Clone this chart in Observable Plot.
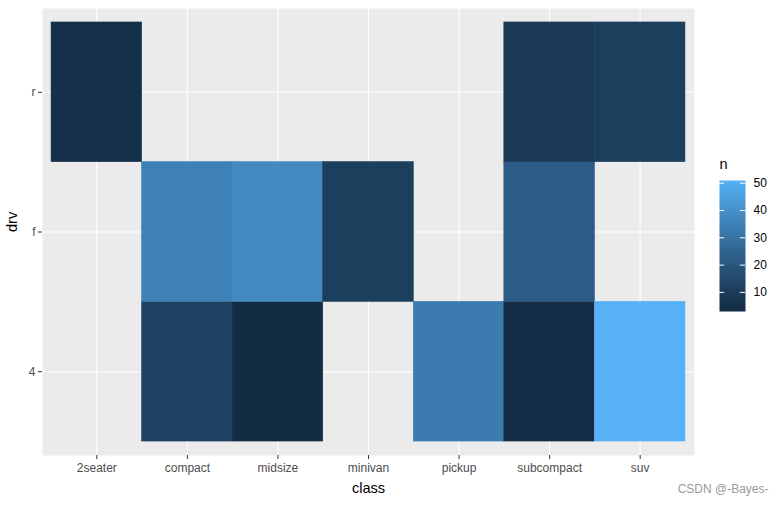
<!DOCTYPE html>
<html>
<head>
<meta charset="utf-8">
<script src="https://cdn.jsdelivr.net/npm/d3@7"></script>
<script src="https://cdn.jsdelivr.net/npm/@observablehq/plot@0.6"></script>
<style>
  body { margin: 0; background: white; }
  #wrap { position: relative; width: 784px; height: 505px; font-family: "Liberation Sans", Arial, sans-serif; }
  #legend { position: absolute; left: 700px; top: 150px; }
  svg { font-family: "Liberation Sans", Arial, sans-serif; }
</style>
</head>
<body>
<div id="wrap"><div id="main"></div><div id="legend"></div></div>
<script>
const classes = ["2seater","compact","midsize","minivan","pickup","subcompact","suv"];
const drvLevels = ["r","f","4"];
const cellClass = ["2seater","compact","compact","midsize","midsize","minivan","pickup","subcompact","subcompact","subcompact","suv","suv"];
const cellDrv   = ["r","4","f","4","f","f","4","4","f","r","4","r"];
const cellN     = [5,12,35,3,38,11,33,4,22,9,51,11];
const legendTicks = [10,20,30,40,50];

const data = cellN.map((n, i) => ({cls: cellClass[i], drv: cellDrv[i], n}));
const colorOpts = {type: "linear", domain: [d3.min(cellN), d3.max(cellN)], range: ["#132B43", "#56B1F7"], interpolate: "lab"};

const main = Plot.plot({
  width: 784, height: 505,
  marginLeft: 42, marginTop: 8, marginRight: 90, marginBottom: 50,
  style: {fontFamily: "Liberation Sans, Arial, sans-serif", background: "white"},
  x: {domain: classes, paddingInner: 0, paddingOuter: 0.1, round: false, label: null},
  y: {domain: drvLevels, paddingInner: 0, paddingOuter: 0.1, round: false, label: null},
  color: colorOpts,
  marks: [
    Plot.frame({fill: "#EBEBEB", stroke: null}),
    Plot.gridX({stroke: "white", strokeOpacity: 1, strokeWidth: 1.1}),
    Plot.gridY({stroke: "white", strokeOpacity: 1, strokeWidth: 1.1}),
    Plot.cell(data, {x: "cls", y: "drv", fill: "n", stroke: "n", strokeWidth: 0.6, inset: 0}),
    Plot.axisX({tickSize: 4, tickPadding: 4, stroke: "#333333", fill: "#4D4D4D", fontSize: 12, label: null}),
    Plot.axisY({tickSize: 4, tickPadding: 3, stroke: "#333333", fill: "#4D4D4D", fontSize: 12, label: null}),
    Plot.text(["class"], {frameAnchor: "bottom", dy: 37, fontSize: 14.6, fill: "black"}),
    Plot.text(["drv"], {frameAnchor: "left", dx: -30, rotate: -90, fontSize: 14.6, fill: "black"}),
    Plot.text(["CSDN @-Bayes-"], {frameAnchor: "bottom-right", dx: 74, dy: 37, textAnchor: "end", fontSize: 12, fill: "#9A9A9A"})
  ]
});
document.getElementById("main").appendChild(main);

const legend = Plot.plot({
  width: 84, height: 175,
  marginLeft: 19, marginRight: 39, marginTop: 30, marginBottom: 14,
  style: {fontFamily: "Liberation Sans, Arial, sans-serif", background: "transparent"},
  x: {domain: [0, 1], axis: null},
  y: {domain: colorOpts.domain, axis: null},
  color: colorOpts,
  marks: [
    Plot.raster({fill: (x, y) => y, x1: 0, x2: 1, y1: colorOpts.domain[0], y2: colorOpts.domain[1], width: 1, height: 200, imageRendering: "auto", interpolate: null}),
    Plot.ruleY(legendTicks, {x1: 0, x2: 0.2, stroke: "white", strokeWidth: 1}),
    Plot.ruleY(legendTicks, {x1: 0.8, x2: 1, stroke: "white", strokeWidth: 1}),
    Plot.axisY(legendTicks, {anchor: "right", tickSize: 0, tickPadding: 8, fontSize: 12, fill: "black", label: null}),
    Plot.text(["n"], {frameAnchor: "top-left", dy: -22, textAnchor: "start", fontSize: 14.6, fill: "black"})
  ]
});
document.getElementById("legend").appendChild(legend);
</script>
</body>
</html>
